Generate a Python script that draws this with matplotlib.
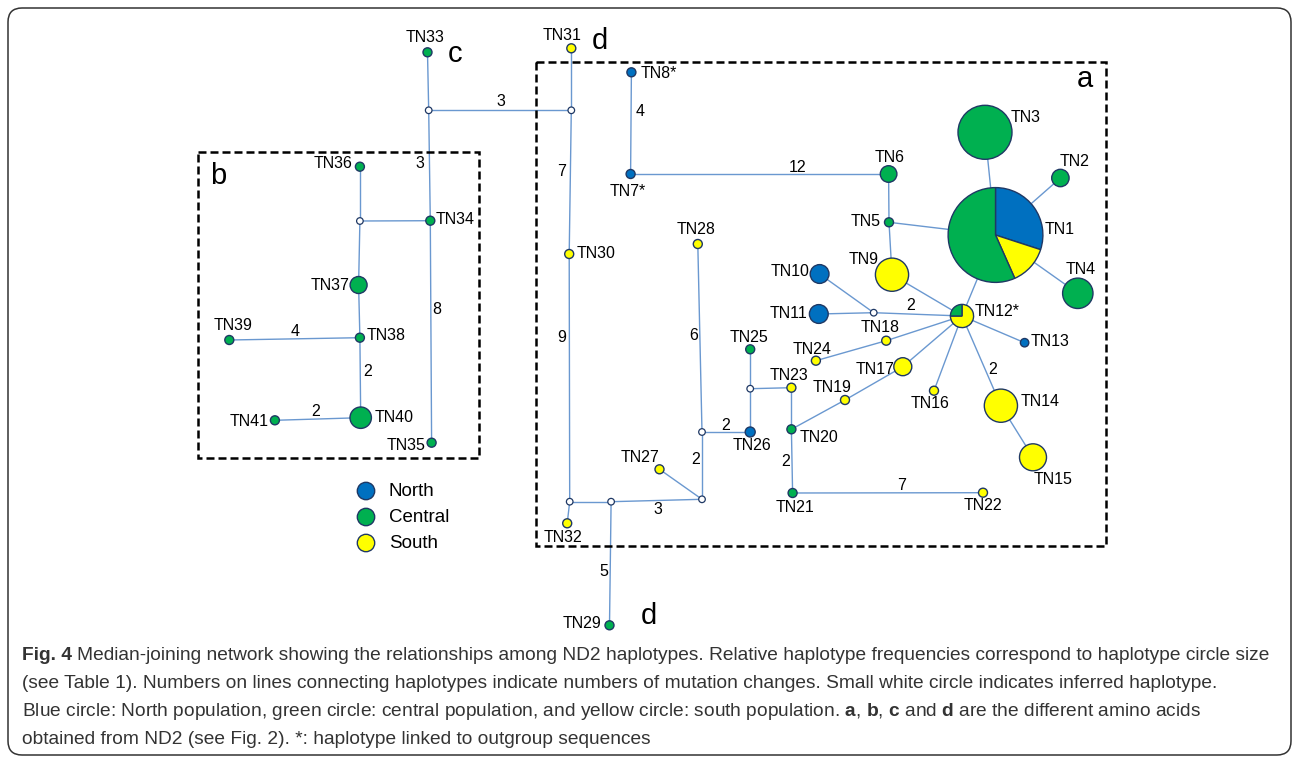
import matplotlib
matplotlib.use("Agg")
import matplotlib.pyplot as plt
from matplotlib.patches import Circle, Wedge, FancyBboxPatch, Rectangle

# haplotypes and their counts per population (North, Central, South)
haplotypes = ["TN%d" % i for i in range(1, 42)]
hap_labels = [h + "*" if h in ("TN7", "TN8", "TN12") else h for h in haplotypes]
north   = [9, 0, 0, 0, 0, 0, 1, 1, 0, 1,  1, 0, 1, 0, 0, 0, 0, 0, 0, 0,
           0, 0, 0, 0, 0, 1, 0, 0, 0, 0,  0, 0, 0, 0, 0, 0, 0, 0, 0, 0, 0]
central = [17, 1, 1, 1, 1, 1, 0, 0, 0, 0,  0, 1, 0, 0, 0, 0, 0, 0, 0, 1,
           1, 0, 0, 0, 1, 0, 0, 0, 1, 0,  0, 0, 1, 1, 1, 1, 1, 1, 1, 1, 1]
south   = [4, 0, 0, 0, 0, 0, 0, 0, 1, 0,  0, 3, 0, 1, 1, 1, 1, 1, 1, 0,
           0, 1, 1, 1, 0, 0, 1, 1, 0, 1,  1, 1, 0, 0, 0, 0, 0, 0, 0, 0, 0]

# inferred (median vector) haplotypes
inferred = ["mv1", "mv2", "mv3", "mv4", "mv5", "mv6", "mv7", "mv8", "mv9"]

# network links: (from, to, number of mutation changes)
links = [
    ("TN33", "mv1", 1), ("mv1", "mv2", 3), ("TN31", "mv2", 1), ("mv1", "TN34", 3),
    ("mv3", "TN34", 1), ("TN36", "mv3", 1), ("mv3", "TN37", 1), ("TN37", "TN38", 1),
    ("TN39", "TN38", 4), ("TN38", "TN40", 2), ("TN41", "TN40", 2), ("TN34", "TN35", 8),
    ("mv2", "TN30", 7), ("TN30", "mv4", 9), ("mv4", "TN32", 1), ("mv4", "mv5", 1),
    ("mv5", "TN29", 5), ("mv5", "mv6", 3), ("TN27", "mv6", 1), ("mv6", "mv7", 2),
    ("mv7", "TN28", 6), ("mv7", "TN26", 2), ("TN26", "mv8", 1), ("mv8", "TN25", 1),
    ("mv8", "TN23", 1), ("TN23", "TN20", 1), ("TN20", "TN21", 2), ("TN21", "TN22", 7),
    ("TN20", "TN19", 1), ("TN19", "TN17", 1), ("TN17", "TN12", 1), ("TN24", "TN18", 1),
    ("TN18", "TN12", 1), ("TN16", "TN12", 1), ("TN12", "TN14", 2), ("TN14", "TN15", 1),
    ("TN12", "TN13", 1), ("TN11", "mv9", 1), ("TN10", "mv9", 1), ("mv9", "TN12", 2),
    ("TN9", "TN12", 1), ("TN12", "TN1", 1), ("TN9", "TN5", 1), ("TN5", "TN6", 1),
    ("TN5", "TN1", 1), ("TN6", "TN7", 12), ("TN7", "TN8", 4), ("TN1", "TN3", 1),
    ("TN1", "TN2", 1), ("TN1", "TN4", 1),
]

populations = ["North", "Central", "South"]

fig_tag = "Fig. 4"
caption = [
    "Median-joining network showing the relationships among ND2 haplotypes. "
    "Relative haplotype frequencies correspond to haplotype circle size",
    "(see Table 1). Numbers on lines connecting haplotypes indicate numbers of mutation changes. "
    "Small white circle indicates inferred haplotype.",
    r"Blue circle: North population, green circle: central population, and yellow circle: south "
    r"population. $\mathbf{a}$, $\mathbf{b}$, $\mathbf{c}$ and $\mathbf{d}$ are the different amino acids",
    "obtained from ND2 (see Fig. 2). *: haplotype linked to outgroup sequences",
]

# ---- layout (pixel positions of the drawing) ----
node_x = [995.5, 1060.4, 985, 1077.8, 889, 888.6, 630.6, 631.4, 892, 819.6,
          818.8, 962, 1024.6, 1000.9, 1033, 934, 902.8, 886.2, 845, 791.4,
          792.6, 983, 791.4, 815.9, 750.2, 750.2, 659.5, 697.8, 609.5, 569.2,
          571.3, 567.2, 427.5, 430.3, 431.6, 359.9, 358.6, 359.9, 229.3, 360.7, 274.9]
node_y = [235, 178, 132.3, 293.3, 222.3, 174, 174, 72.3, 274.7, 274,
          314, 316, 342.7, 405.7, 457.3, 390.7, 366.7, 340.7, 400, 429.3,
          493, 492.7, 387.7, 360.7, 349.3, 432, 469.3, 244, 625.3, 254,
          48.3, 523.3, 52.3, 220.7, 442.7, 166.7, 285, 337.7, 340, 417.7, 420.3]
node_r = [47.4, 8.7, 27, 15.2, 4.5, 8.3, 4.5, 4.5, 16.6, 9.4,
          9.4, 11.6, 4.2, 16.6, 13.5, 4.5, 9, 4.5, 4.5, 4.5,
          4.5, 4.5, 4.5, 4.5, 4.5, 5, 4.5, 4.5, 4.5, 4.5,
          4.5, 4.5, 4.5, 4.5, 4.5, 4.5, 8.5, 4.5, 4.5, 10.7, 4.5]
label_x = [1060, 1075, 1026, 1081, 866, 890, 628, 659, 864, 790,
           789, 997, 1050, 1040, 1053, 930, 875, 880, 832, 819,
           795, 983, 789, 812, 749, 752, 640, 696, 582, 596,
           562, 563, 425, 455, 406, 333, 330, 386, 233, 394, 249]
label_y = [229, 162, 117, 269, 222, 157, 192, 74, 260, 272,
           313, 312, 342, 402, 480, 404, 369, 328, 388, 437,
           507, 506, 376, 349, 337, 446, 457, 230, 624, 254,
           35, 537, 38, 220, 445, 164, 285, 336, 325, 418, 421]
mv_x = [428.7, 571.3, 359.9, 569.7, 611.1, 702, 702, 750.2, 873.7]
mv_y = [110.3, 110.3, 221, 501.7, 501.7, 499.3, 432, 388.7, 312.7]
mut_label_xy = {
    ("mv1", "mv2"): (501, 101), ("mv1", "TN34"): (420, 163), ("TN34", "TN35"): (437, 309),
    ("TN39", "TN38"): (295, 331), ("TN38", "TN40"): (368, 372), ("TN41", "TN40"): (316, 411),
    ("mv2", "TN30"): (562, 172), ("TN30", "mv4"): (562, 337), ("TN7", "TN8"): (640, 111),
    ("TN6", "TN7"): (798, 167), ("mv7", "TN28"): (694, 335), ("mv7", "TN26"): (726, 425),
    ("mv6", "mv7"): (696, 460), ("mv5", "mv6"): (658, 509), ("mv5", "TN29"): (604, 572),
    ("TN20", "TN21"): (786, 462), ("TN21", "TN22"): (902, 485), ("mv9", "TN12"): (911, 305),
    ("TN12", "TN14"): (993, 369),
}

c_north, c_central, c_south = "#0070C0", "#00B050", "#FFFF00"
ring = "#1F3864"
line_col = "#6A98D0"

plt.rcParams['font.family'] = ['Liberation Sans', 'DejaVu Sans']
plt.rcParams['mathtext.fontset'] = 'custom'
plt.rcParams['mathtext.rm'] = 'Liberation Sans'
plt.rcParams['mathtext.bf'] = 'Liberation Sans:bold'

W, H = 1292, 759
fig = plt.figure(figsize=(W / 100, H / 100), dpi=100)
ax = fig.add_axes([0, 0, 1, 1])
ax.set_xlim(0, W)
ax.set_ylim(H, 0)
ax.axis('off')

# outer frame
ax.add_patch(FancyBboxPatch((8, 8), 1283, 747, boxstyle="round,pad=0,rounding_size=14",
                            fc='white', ec='#333333', lw=1.1, zorder=0))

pos = {h: (node_x[i], node_y[i]) for i, h in enumerate(haplotypes)}
for i, m in enumerate(inferred):
    pos[m] = (mv_x[i], mv_y[i])

# links
for a, b, n in links:
    (x1, y1), (x2, y2) = pos[a], pos[b]
    ax.plot([x1, x2], [y1, y2], color=line_col, lw=1.0, zorder=1, solid_capstyle='butt')
    if n > 1:
        tx, ty = mut_label_xy[(a, b)]
        ax.text(tx, ty, str(n), fontsize=11.5, ha='center', va='center', zorder=4)

# dashed boxes for amino acid groups
for (x0, y0, x1, y1) in [(535.7, 61.7, 1105.7, 545.7), (198, 151.7, 478.9, 458.3)]:
    ax.add_patch(Rectangle((x0, y0), x1 - x0, y1 - y0, fill=False, ec='black', lw=1.8,
                           linestyle=(0, (3.2, 1.6)), zorder=1.5))
for s, (tx, ty) in [("a", (1085, 79)), ("b", (218.5, 176)), ("c", (455, 54)),
                    ("d", (600, 41)), ("d", (649, 616))]:
    ax.text(tx, ty, s, fontsize=21, ha='center', va='center', zorder=4)

# haplotype circles / pies
for i, h in enumerate(haplotypes):
    x, y, r = node_x[i], node_y[i], node_r[i]
    counts = [north[i], south[i], central[i]]
    cols = [c_north, c_south, c_central]
    total = sum(counts)
    used = [(c, col) for c, col in zip(counts, cols) if c > 0]
    if len(used) == 1:
        ax.add_patch(Circle((x, y), r, fc=used[0][1], ec=ring, lw=1.0, zorder=3))
    else:
        start = -90
        for c, col in used:
            span = 360.0 * c / total
            ax.add_patch(Wedge((x, y), r, start, start + span, fc=col, ec=ring, lw=1.0, zorder=3))
            start += span
    ax.text(label_x[i], label_y[i], hap_labels[i], fontsize=11.5, ha='center', va='center', zorder=4)

for m in inferred:
    ax.add_patch(Circle(pos[m], 3.3, fc='white', ec=ring, lw=0.9, zorder=3))

# legend
for k, (p, col) in enumerate(zip(populations, [c_north, c_central, c_south])):
    ly = 491 + k * 26
    ax.add_patch(Circle((366, ly), 8.7, fc=col, ec=ring, lw=1.0, zorder=3))
    ax.text(389, ly + 1, p, fontsize=13.5, ha='left', va='center', zorder=4)

# caption, scaled to the width of the first line
renderer = fig.canvas.get_renderer()


def text_width(s, size, weight='normal'):
    t = ax.text(0, 0, s, fontsize=size, fontweight=weight)
    w = t.get_window_extent(renderer).width
    t.remove()
    return w


base = 12
line1_w = (text_width(fig_tag, base, 'bold') + text_width("a a", base) - text_width("aa", base)
           + text_width(caption[0], base))
fs = base * 1253.0 / line1_w
tag_w = text_width(fig_tag, fs, 'bold') + text_width("a a", fs) - text_width("aa", fs)

cap_col = '#333333'
ax.text(22, 660, fig_tag, fontsize=fs, fontweight='bold', ha='left', va='baseline', color=cap_col)
for k, line in enumerate(caption):
    x0 = 22 + (tag_w if k == 0 else 0)
    ax.text(x0, 660 + 28 * k, line, fontsize=fs, ha='left', va='baseline', color=cap_col)

fig.savefig("out.png", dpi=100)
